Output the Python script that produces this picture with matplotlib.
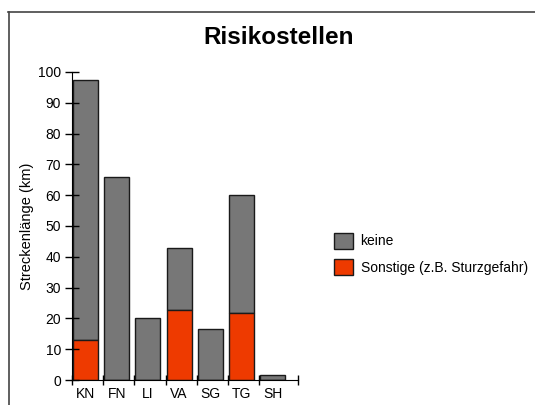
import matplotlib
matplotlib.use('Agg')
import matplotlib.pyplot as plt
import numpy as np
from matplotlib.lines import Line2D
from matplotlib.patches import Patch

plt.rcParams['font.family'] = ['Liberation Sans', 'DejaVu Sans']

regions = ['KN', 'FN', 'LI', 'VA', 'SG', 'TG', 'SH']
sonstige = [13, 0, 0, 22.7, 0, 21.7, 0]      # km, red part
keine = [84.5, 66, 20, 20.3, 16.6, 38.3, 1.5]  # km, grey part on top
series_names = ['keine', 'Sonstige (z.B. Sturzgefahr)']

grey = '#777777'
red = '#ee3a00'
edge = '#1a1a1a'

fig = plt.figure(figsize=(5.35, 4.05), dpi=100)
ax = fig.add_axes([72/535, 1 - 380/405, (298 - 72)/535, (380 - 72)/405])

x = np.arange(len(regions))
left = x + 0.03
ax.bar(left, keine, width=0.8, bottom=sonstige, align='edge',
       color=grey, edgecolor=edge, linewidth=1)
ax.bar(left, sonstige, width=0.8, align='edge', color=red, edgecolor=edge, linewidth=1)

xmax = 7.24
ax.set_xlim(0, xmax)
ax.set_ylim(0, 100)
ax.set_yticks(np.arange(0, 101, 10))
ax.tick_params(axis='y', direction='inout', length=10, width=1, pad=3, labelsize=10)

ax.set_xticks(left + 0.4)
ax.set_xticklabels(regions)
ax.tick_params(axis='x', which='major', length=0, pad=5, labelsize=10)
ax.set_xticks(list(range(7)) + [xmax], minor=True)
ax.tick_params(axis='x', which='minor', direction='inout', length=7, width=1)

for s in ['top', 'right']:
    ax.spines[s].set_visible(False)

ax.set_ylabel('Streckenlänge (km)', fontsize=10.5, labelpad=3)

fig.text(279/535, 1 - 38/405, 'Risikostellen', ha='center', va='center',
         fontsize=17.5, fontweight='bold')

handles = [Patch(facecolor=grey, edgecolor=edge), Patch(facecolor=red, edgecolor=edge)]
fig.legend(handles, series_names, loc='center left', bbox_to_anchor=(321/535, 1 - 254/405),
           frameon=False, fontsize=10, handlelength=1.4, handleheight=1.4,
           handletextpad=0.55, labelspacing=0.75)

# frame lines at top and left of the figure
fig.add_artist(Line2D([8/535, 1], [1 - 11.5/405, 1 - 11.5/405], color='#444444', lw=1.2,
                      transform=fig.transFigure))
fig.add_artist(Line2D([8.5/535, 8.5/535], [0, 1 - 11.5/405], color='#444444', lw=1.2,
                      transform=fig.transFigure))

fig.savefig('out.png', dpi=100)
